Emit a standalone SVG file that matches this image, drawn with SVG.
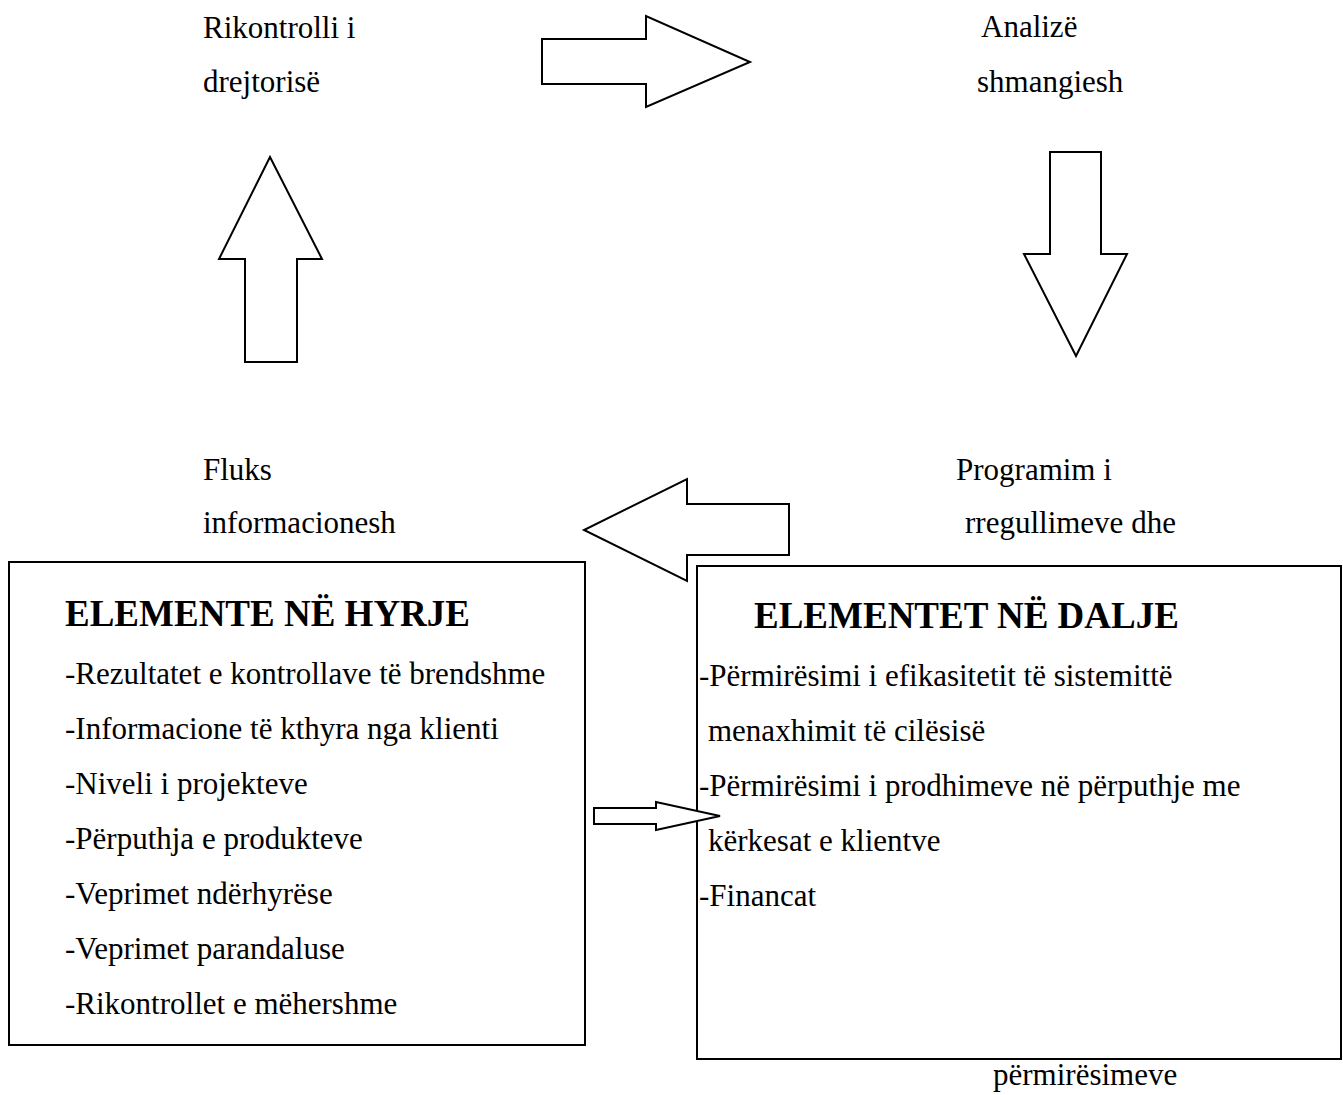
<svg xmlns="http://www.w3.org/2000/svg" width="1343" height="1095" viewBox="0 0 1343 1095">
<style>
.t{font-family:"Liberation Serif","Times New Roman",serif;font-size:31px;fill:#000}
.h{font-family:"Liberation Serif","Times New Roman",serif;font-size:37px;font-weight:bold;fill:#000}
.a{fill:#fff;stroke:#000;stroke-width:2;stroke-linejoin:miter}
.b{fill:#fff;stroke:#000;stroke-width:2}
</style>
<rect width="1343" height="1095" fill="#fff"/>
<g id="label-rikontrolli">
<text class="t" x="203" y="38">Rikontrolli i</text>
<text class="t" x="203" y="92">drejtorisë</text>
</g>
<g id="label-analize">
<text class="t" x="981" y="37">Analizë</text>
<text class="t" x="977" y="92">shmangiesh</text>
</g>
<g id="label-fluks">
<text class="t" x="203" y="480">Fluks</text>
<text class="t" x="203" y="533">informacionesh</text>
</g>
<g id="label-programim">
<text class="t" x="956" y="480">Programim i</text>
<text class="t" x="965" y="533">rregullimeve dhe</text>
<text class="t" x="993" y="1085">përmirësimeve</text>
</g>
<g id="box-hyrje">
<rect class="b" x="9" y="562" width="576" height="483"/>
<text class="h" x="65" y="626">ELEMENTE NË HYRJE</text>
<text class="t" x="65" y="684">-Rezultatet e kontrollave të brendshme</text>
<text class="t" x="65" y="739">-Informacione të kthyra nga klienti</text>
<text class="t" x="65" y="794">-Niveli i projekteve</text>
<text class="t" x="65" y="849">-Përputhja e produkteve</text>
<text class="t" x="65" y="904">-Veprimet ndërhyrëse</text>
<text class="t" x="65" y="959">-Veprimet parandaluse</text>
<text class="t" x="65" y="1014">-Rikontrollet e mëhershme</text>
</g>
<g id="box-dalje">
<rect class="b" x="697" y="566" width="644" height="493"/>
<text class="h" x="754" y="628">ELEMENTET NË DALJE</text>
<text class="t" x="699" y="686">-Përmirësimi i efikasitetit të sistemittë</text>
<text class="t" x="708" y="741">menaxhimit të cilësisë</text>
<text class="t" x="699" y="796">-Përmirësimi i prodhimeve në përputhje me</text>
<text class="t" x="708" y="851">kërkesat e klientve</text>
<text class="t" x="699" y="906">-Financat</text>
</g>
<g id="connectors">
<polygon class="a" points="542,39 646,39 646,16 750,62 646,107 646,84 542,84"/>
<polygon class="a" points="1050,152 1101,152 1101,254 1127,254 1076,356 1024,254 1050,254"/>
<polygon class="a" points="789,504 687,504 687,479 584,530 687,581 687,555 789,555"/>
<polygon class="a" points="245,362 245,259 219,259 270,157 322,259 297,259 297,362"/>
<polygon class="a" points="594,808 656,808 656,802 720,816 656,830 656,824 594,824"/>
</g>
</svg>
